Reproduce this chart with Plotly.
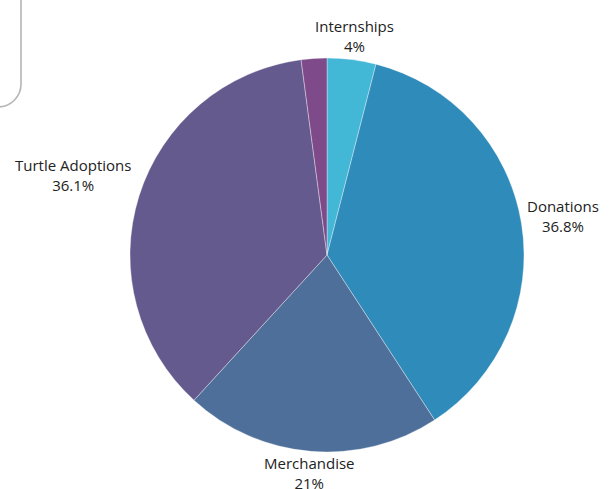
import math
import plotly.graph_objects as go

# Data
categories = ["Internships", "Donations", "Merchandise", "Turtle Adoptions", "Other"]
values = [4.0, 36.8, 21.0, 36.1, 2.1]
show_label = [True, True, True, True, False]
colors = ["#42b7d6", "#2e8bba", "#4e6f9a", "#655a8e", "#7f4a8a"]

W, H = 614, 489

def px(x):
    return x / W

def py(y):
    return 1 - y / H

# pie placement (pixels)
left, right, top, bottom = 130, 524, 58, 452
cx, cy = (left + right) / 2, (top + bottom) / 2
R = min(right - left, bottom - top) / 2

fig = go.Figure(
    go.Pie(
        labels=categories,
        values=values,
        sort=False,
        direction="clockwise",
        rotation=0,
        marker=dict(colors=colors, line=dict(color="rgba(255,255,255,0.6)", width=0.6)),
        textinfo="none",
        hoverinfo="label+percent",
        domain=dict(x=[px(left), px(right)], y=[py(bottom), py(top)]),
        showlegend=False,
    )
)

# outside labels centred on each slice's bisector
font_size = 15
char_w = 7.8
half_h = 12
gap = 6
total = sum(values)
cum = 0.0
for lab, v, show in zip(categories, values, show_label):
    mid = (cum + v / 2) / total * 2 * math.pi
    cum += v
    if not show:
        continue
    pct = f"{v / total * 100:.3g}%"
    ux, uy = math.sin(mid), -math.cos(mid)
    hw = 0.5 * max(len(lab), len(pct)) * char_w
    d = R + gap + abs(ux) * hw + abs(uy) * half_h
    x, y = cx + ux * d, cy + uy * d
    fig.add_annotation(
        x=px(x), y=py(y), xref="paper", yref="paper",
        text=f"{lab}<br>{pct}", showarrow=False,
        xanchor="center", yanchor="middle", align="center",
        font=dict(family="Open Sans", size=font_size, color="#222222"),
    )

# partial rounded box at top-left (legend frame remnant)
r = 23
k = 0.5523
path = (
    f"M {px(21)},{py(-5)} L {px(21)},{py(107 - r)} "
    f"C {px(21)},{py(107 - r + r * k)} {px(21 - r + r * k)},{py(107)} {px(-2)},{py(107)} "
    f"L {px(-5)},{py(107)}"
)
fig.add_shape(type="path", path=path, xref="paper", yref="paper",
              line=dict(color="#b5b5b5", width=1.6))

fig.update_layout(
    width=W,
    height=H,
    margin=dict(l=0, r=0, t=0, b=0),
    paper_bgcolor="white",
    plot_bgcolor="white",
    font=dict(family="Open Sans", size=14, color="#222222"),
)

fig.write_html("out.html", config={"displayModeBar": False},
               post_script="document.body.style.margin='0';")
